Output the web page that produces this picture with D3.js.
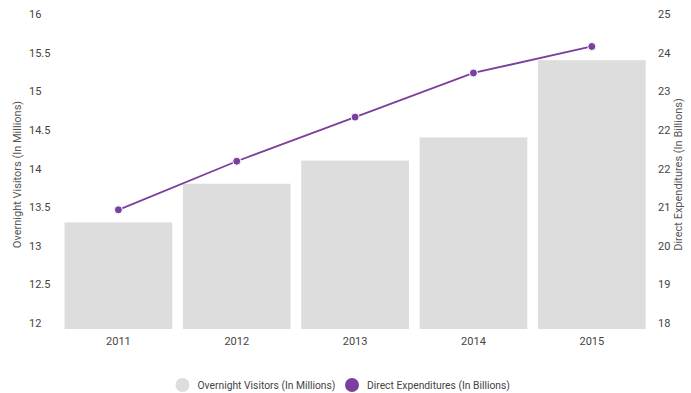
<!DOCTYPE html>
<html>
<head>
<meta charset="utf-8">
<script src="https://cdn.jsdelivr.net/npm/d3@7"></script>
<style>
  html, body { margin: 0; padding: 0; background: #fff; }
  svg { display: block; font-family: Roboto, "Noto Sans", sans-serif; }
</style>
</head>
<body>
<svg id="chart" width="691" height="393"></svg>
<script>
// Tourism figures by year
const years = ["2011", "2012", "2013", "2014", "2015"];
const visitors = [13.38, 13.88, 14.18, 14.48, 15.48];       // overnight visitors, millions
const expenditures = [20.7, 21.8, 22.8, 23.8, 24.4];        // direct expenditures, billions
const leftTicks = [12, 12.5, 13, 13.5, 14, 14.5, 15, 15.5, 16];
const rightTicks = [18, 18.875, 19.75, 20.625, 21.5, 22.375, 23.25, 24.125, 25];
const seriesNames = ["Overnight Visitors (In Millions)", "Direct Expenditures (In Billions)"];

const barColor = "#dddddd";
const lineColor = "#7b3f9f";
const textColor = "#444";
const titleColor = "#555";

const svg = d3.select("#chart");
const plotTop = 20, plotBottom = 329;

const x = d3.scaleBand().domain(years).range([59.2, 651]).paddingInner(0.09).paddingOuter(0.045);
const yL = d3.scaleLinear().domain([12, 16]).range([plotBottom, plotTop]);
const yR = d3.scaleLinear().domain([18, 25]).range([plotBottom, plotTop]);

// Bars
svg.append("g").selectAll("rect").data(years).join("rect")
  .attr("x", d => x(d))
  .attr("width", x.bandwidth())
  .attr("y", (d, i) => yL(visitors[i]))
  .attr("height", (d, i) => plotBottom - yL(visitors[i]))
  .attr("fill", barColor);

// Left axis labels (sit just above their tick value)
const leftAxis = d3.axisLeft(yL).tickValues(leftTicks).tickSize(0).tickFormat(d3.format("~g"));
svg.append("g").attr("transform", "translate(29,0)").call(leftAxis)
  .call(g => g.select(".domain").remove())
  .call(g => g.selectAll("text")
    .attr("x", 0).attr("dy", "-0.22em").attr("text-anchor", "start")
    .attr("fill", textColor).style("font-size", "11px").style("font-family", "Roboto"));

// Right axis labels, rounded to whole numbers
const rightAxis = d3.axisRight(yR).tickValues(rightTicks).tickSize(0).tickFormat(d => Math.round(d));
svg.append("g").attr("transform", "translate(658,0)").call(rightAxis)
  .call(g => g.select(".domain").remove())
  .call(g => g.selectAll("text")
    .attr("x", 0).attr("dy", "-0.22em").attr("text-anchor", "start")
    .attr("fill", textColor).style("font-size", "11px").style("font-family", "Roboto"));

// Category axis
const xAxis = d3.axisBottom(x).tickSize(0);
svg.append("g").attr("transform", `translate(0,${plotBottom})`).call(xAxis)
  .call(g => g.select(".domain").remove())
  .call(g => g.selectAll("text")
    .attr("y", 8).attr("dy", "0.71em")
    .attr("fill", textColor).style("font-size", "11px").style("font-family", "Roboto"));

// Axis titles
svg.append("text")
  .attr("transform", `translate(21,${(plotTop + plotBottom) / 2}) rotate(-90)`)
  .attr("text-anchor", "middle")
  .attr("fill", titleColor).style("font-size", "11px")
  .text(seriesNames[0]);
svg.append("text")
  .attr("transform", `translate(681.5,${(plotTop + plotBottom) / 2}) rotate(-90)`)
  .attr("text-anchor", "middle")
  .attr("fill", titleColor).style("font-size", "11px")
  .text(seriesNames[1]);

// Expenditure line with markers
const cx = d => x(d) + x.bandwidth() / 2;
const line = d3.line().x(d => cx(d)).y((d, i) => yR(expenditures[i]));
svg.append("path").datum(years)
  .attr("d", line)
  .attr("fill", "none").attr("stroke", lineColor).attr("stroke-width", 1.8);
svg.append("g").selectAll("circle").data(years).join("circle")
  .attr("cx", d => cx(d))
  .attr("cy", (d, i) => yR(expenditures[i]))
  .attr("r", 4)
  .attr("fill", lineColor)
  .attr("stroke", "#fff").attr("stroke-width", 1);

// Legend
const legend = svg.append("g").attr("transform", "translate(0,385)");
const legendItems = [
  { name: seriesNames[0], color: barColor, x: 182.5 },
  { name: seriesNames[1], color: lineColor, x: 352 }
];
const li = legend.selectAll("g").data(legendItems).join("g")
  .attr("transform", d => `translate(${d.x},0)`);
li.append("circle").attr("r", 7).attr("fill", d => d.color);
li.append("text").attr("x", 15).attr("dy", "0.35em")
  .attr("fill", textColor).style("font-size", "10.3px")
  .text(d => d.name);
</script>
</body>
</html>
